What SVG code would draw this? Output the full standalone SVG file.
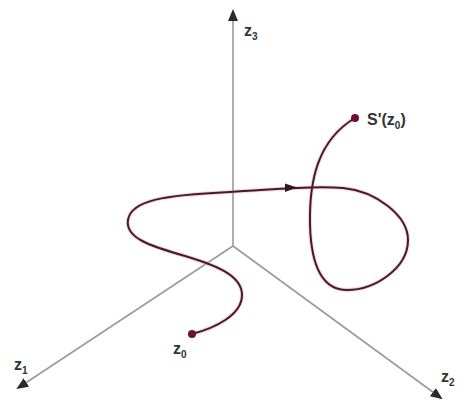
<svg xmlns="http://www.w3.org/2000/svg" width="466" height="404" viewBox="0 0 466 404">
<defs>
<style>
.axis{stroke:#9a9a9a;stroke-width:1.6;fill:none}
.curve{stroke:#4a1a2a;stroke-width:2;fill:none;stroke-linecap:round}
.halo{stroke:#e8b0c0;stroke-width:4;fill:none;opacity:0.5}
.lbl{font-family:"Liberation Sans",Arial,sans-serif;font-weight:bold;fill:#333;font-size:16px}
.sub{font-size:10px}
.dot{fill:#6a1030}
</style>
<marker id="ah" viewBox="0 0 10 10" refX="9" refY="5" markerWidth="8" markerHeight="8" markerUnits="userSpaceOnUse" orient="auto">
<path d="M0,0 L10,5 L0,10 z" fill="#2a2a2a"/>
</marker>
<marker id="ah2" viewBox="0 0 12 10" refX="10" refY="5" markerWidth="12" markerHeight="10" markerUnits="userSpaceOnUse" orient="auto">
<path d="M0,0 L12,5 L0,10 z" fill="#2a2a2a"/>
</marker>
</defs>
<g id="axes">
<line id="axis-z3" class="axis" x1="233" y1="246" x2="233" y2="11" marker-end="url(#ah2)"/>
<line id="axis-z1" class="axis" x1="233" y1="246" x2="18" y2="388" marker-end="url(#ah2)"/>
<line id="axis-z2" class="axis" x1="233" y1="246" x2="441" y2="398" marker-end="url(#ah2)"/>
</g>
<g id="connectors">
<path class="halo" d="M192,334 C215,328 242,315 242,295 C242,275 215,265 185,256 C150,246 125,238 128,220 C131,200 165,195 230,192 C270,190 310,185 343,188 C375,191 408,215 408,240 C408,268 375,290 347,290 C320,290 311,260 310,225 C309,180 318,140 355,118"/>
<path id="trajectory" class="curve" d="M192,334 C215,328 242,315 242,295 C242,275 215,265 185,256 C150,246 125,238 128,220 C131,200 165,195 230,192 C270,190 310,185 343,188 C375,191 408,215 408,240 C408,268 375,290 347,290 C320,290 311,260 310,225 C309,180 318,140 355,118"/>
<path id="flow-arrow" d="M297,187.6 L285,183.5 L285,192 z" fill="#2a1a20"/>
</g>
<g id="node-z0">
<circle class="dot" cx="192" cy="334" r="4"/>
<text class="lbl" x="173" y="354">z<tspan class="sub" dy="4">0</tspan></text>
</g>
<g id="node-S">
<circle class="dot" cx="355" cy="118" r="4"/>
<text class="lbl" x="367" y="125">S'(z<tspan class="sub" dy="4">0</tspan><tspan dy="-4">)</tspan></text>
</g>
<g id="label-z3">
<text class="lbl" x="244" y="36">z<tspan class="sub" dy="4">3</tspan></text>
</g>
<g id="label-z1">
<text class="lbl" x="14" y="370">z<tspan class="sub" dy="4">1</tspan></text>
</g>
<g id="label-z2">
<text class="lbl" x="441" y="382">z<tspan class="sub" dy="4">2</tspan></text>
</g>
</svg>
